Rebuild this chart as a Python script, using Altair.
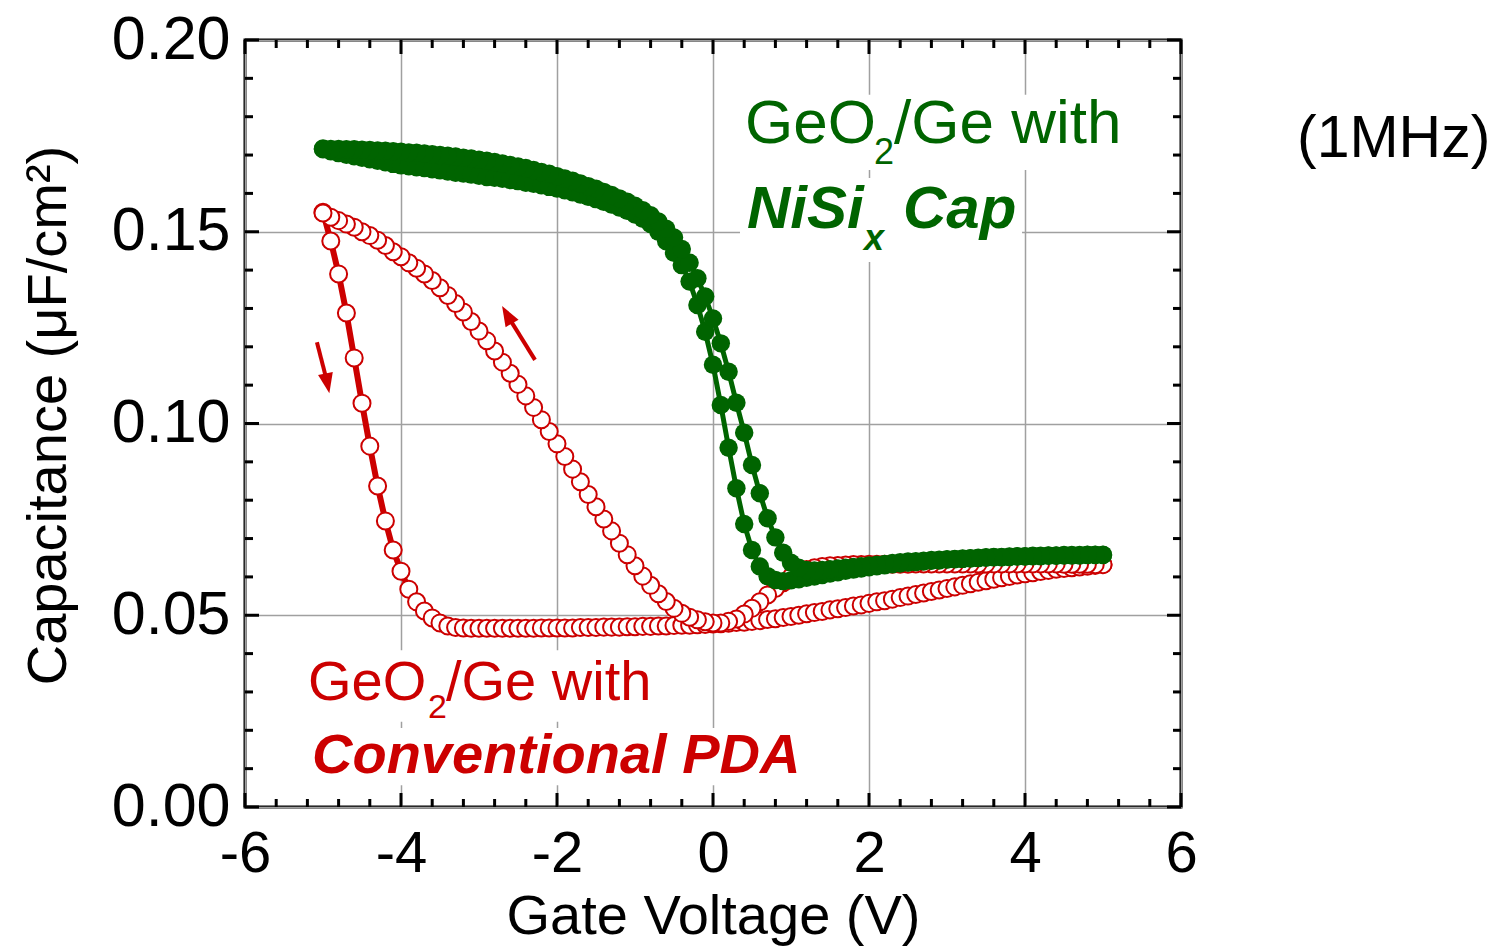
import altair as alt
import pandas as pd

F = "Liberation Sans"
RED = "#cc0000"
GREEN = "#006400"

VOLTS = [-5.0, -4.9, -4.8, -4.7, -4.6, -4.5, -4.4, -4.3, -4.2, -4.1,
         -4.0, -3.9, -3.8, -3.7, -3.6, -3.5, -3.4, -3.3, -3.2, -3.1,
         -3.0, -2.9, -2.8, -2.7, -2.6, -2.5, -2.4, -2.3, -2.2, -2.1,
         -2.0, -1.9, -1.8, -1.7, -1.6, -1.5, -1.4, -1.3, -1.2, -1.1,
         -1.0, -0.9, -0.8, -0.7, -0.6, -0.5, -0.4, -0.3, -0.2, -0.1,
         0.0, 0.1, 0.2, 0.3, 0.4, 0.5, 0.6, 0.7, 0.8, 0.9,
         1.0, 1.1, 1.2, 1.3, 1.4, 1.5, 1.6, 1.7, 1.8, 1.9,
         2.0, 2.1, 2.2, 2.3, 2.4, 2.5, 2.6, 2.7, 2.8, 2.9,
         3.0, 3.1, 3.2, 3.3, 3.4, 3.5, 3.6, 3.7, 3.8, 3.9,
         4.0, 4.1, 4.2, 4.3, 4.4, 4.5, 4.6, 4.7, 4.8, 4.9, 5.0]

# Conventional PDA, sweep -5 -> +5 (values listed in voltage order)
RED_FWD = [0.1551, 0.1476, 0.1390, 0.1288, 0.1171, 0.1053, 0.0941, 0.0837, 0.0746, 0.0670,
           0.0615, 0.0568, 0.0535, 0.0511, 0.0493, 0.0480, 0.0472, 0.0468, 0.0467, 0.0466,
           0.0466, 0.0466, 0.0466, 0.0466, 0.0466, 0.0466, 0.0466, 0.0466, 0.0467, 0.0467,
           0.0467, 0.0467, 0.0467, 0.0468, 0.0468, 0.0468, 0.0469, 0.0469, 0.0469, 0.0470,
           0.0470, 0.0471, 0.0471, 0.0472, 0.0472, 0.0473, 0.0474, 0.0474, 0.0475, 0.0476,
           0.0477, 0.0478, 0.0479, 0.0481, 0.0482, 0.0484, 0.0486, 0.0489, 0.0491, 0.0494,
           0.0497, 0.0500, 0.0504, 0.0507, 0.0510, 0.0514, 0.0517, 0.0520, 0.0524, 0.0527,
           0.0531, 0.0535, 0.0538, 0.0542, 0.0546, 0.0550, 0.0554, 0.0558, 0.0562, 0.0566,
           0.0570, 0.0574, 0.0578, 0.0582, 0.0586, 0.0590, 0.0594, 0.0598, 0.0601, 0.0605,
           0.0608, 0.0611, 0.0614, 0.0617, 0.0620, 0.0622, 0.0624, 0.0626, 0.0628, 0.0630, 0.0632]

# Conventional PDA, sweep +5 -> -5 (values listed in voltage order)
RED_BWD = [0.1549, 0.1538, 0.1529, 0.1520, 0.1512, 0.1500, 0.1490, 0.1478, 0.1464, 0.1448,
           0.1435, 0.1419, 0.1405, 0.1390, 0.1373, 0.1354, 0.1334, 0.1313, 0.1291, 0.1266,
           0.1241, 0.1216, 0.1189, 0.1160, 0.1131, 0.1102, 0.1072, 0.1042, 0.1010, 0.0979,
           0.0947, 0.0914, 0.0881, 0.0848, 0.0815, 0.0783, 0.0751, 0.0720, 0.0688, 0.0658,
           0.0629, 0.0602, 0.0578, 0.0556, 0.0536, 0.0518, 0.0505, 0.0495, 0.0488, 0.0483,
           0.0480, 0.0480, 0.0484, 0.0490, 0.0503, 0.0518, 0.0535, 0.0553, 0.0570, 0.0585,
           0.0600, 0.0611, 0.0619, 0.0624, 0.0627, 0.0629, 0.0630, 0.0631, 0.0632, 0.0632,
           0.0633, 0.0633, 0.0633, 0.0633, 0.0633, 0.0633, 0.0634, 0.0634, 0.0634, 0.0634,
           0.0634, 0.0634, 0.0634, 0.0634, 0.0634, 0.0634, 0.0634, 0.0634, 0.0634, 0.0634,
           0.0634, 0.0634, 0.0634, 0.0634, 0.0634, 0.0633, 0.0633, 0.0633, 0.0633, 0.0632, 0.0632]

# NiSix cap, sweep -5 -> +5
GREEN_FWD = [0.1715, 0.1710, 0.1705, 0.1701, 0.1697, 0.1693, 0.1689, 0.1685, 0.1681, 0.1677,
             0.1673, 0.1671, 0.1668, 0.1666, 0.1663, 0.1660, 0.1657, 0.1654, 0.1652, 0.1649,
             0.1646, 0.1643, 0.1641, 0.1638, 0.1635, 0.1632, 0.1628, 0.1625, 0.1621, 0.1617,
             0.1613, 0.1608, 0.1603, 0.1597, 0.1591, 0.1585, 0.1578, 0.1571, 0.1563, 0.1555,
             0.1545, 0.1534, 0.1520, 0.1500, 0.1475, 0.1445, 0.1413, 0.1370, 0.1309, 0.1239,
             0.1153, 0.1048, 0.0937, 0.0831, 0.0738, 0.0670, 0.0627, 0.0602, 0.0592, 0.0589,
             0.0591, 0.0594, 0.0598, 0.0601, 0.0605, 0.0609, 0.0612, 0.0616, 0.0619, 0.0622,
             0.0625, 0.0628, 0.0630, 0.0633, 0.0635, 0.0637, 0.0639, 0.0640, 0.0642, 0.0643,
             0.0645, 0.0646, 0.0647, 0.0648, 0.0649, 0.0650, 0.0651, 0.0651, 0.0652, 0.0653,
             0.0653, 0.0654, 0.0654, 0.0655, 0.0655, 0.0656, 0.0656, 0.0656, 0.0657, 0.0657, 0.0657]

# NiSix cap, sweep +5 -> -5 (values listed in voltage order)
GREEN_BWD = [0.1717, 0.1716, 0.1716, 0.1715, 0.1715, 0.1714, 0.1713, 0.1712, 0.1711, 0.1710,
             0.1709, 0.1707, 0.1706, 0.1704, 0.1702, 0.1700, 0.1698, 0.1696, 0.1693, 0.1691,
             0.1688, 0.1685, 0.1682, 0.1678, 0.1674, 0.1670, 0.1666, 0.1661, 0.1656, 0.1651,
             0.1645, 0.1639, 0.1633, 0.1626, 0.1619, 0.1612, 0.1604, 0.1596, 0.1587, 0.1578,
             0.1568, 0.1556, 0.1543, 0.1527, 0.1508, 0.1485, 0.1455, 0.1419, 0.1379, 0.1331,
             0.1274, 0.1209, 0.1135, 0.1054, 0.0976, 0.0892, 0.0818, 0.0753, 0.0703, 0.0663,
             0.0637, 0.0624, 0.0618, 0.0617, 0.0618, 0.0620, 0.0622, 0.0624, 0.0626, 0.0628,
             0.0630, 0.0632, 0.0634, 0.0636, 0.0638, 0.0640, 0.0641, 0.0642, 0.0644, 0.0645,
             0.0646, 0.0647, 0.0648, 0.0649, 0.0650, 0.0651, 0.0652, 0.0652, 0.0653, 0.0654,
             0.0654, 0.0655, 0.0655, 0.0656, 0.0656, 0.0657, 0.0657, 0.0657, 0.0658, 0.0658, 0.0658]

X_MAJOR = [-6, -4, -2, 0, 2, 4, 6]
X_MINOR = [-5.6, -5.2, -4.8, -4.4, -3.6, -3.2, -2.8, -2.4, -1.6, -1.2, -0.8, -0.4,
           0.4, 0.8, 1.2, 1.6, 2.4, 2.8, 3.2, 3.6, 4.4, 4.8, 5.2, 5.6]
Y_MAJOR = [0.0, 0.05, 0.10, 0.15, 0.20]
Y_MINOR = [0.01, 0.02, 0.03, 0.04, 0.06, 0.07, 0.08, 0.09, 0.11, 0.12, 0.13, 0.14,
           0.16, 0.17, 0.18, 0.19]

# arrows: tail (V, C) -> head centre (V, C), head angle
ARROW_TAIL_V = [-5.078, -2.282]
ARROW_TAIL_C = [0.1212, 0.1166]
ARROW_HEAD_V = [-4.950, -2.624]
ARROW_HEAD_C = [0.1111, 0.1278]
ARROW_ANGLE = [168.7, 330.0]

W, H = 936, 767
xs = alt.Scale(domain=[-6, 6], nice=False, zero=False)
ys = alt.Scale(domain=[0, 0.2], nice=False, zero=False)


def loop(fwd, bwd):
    rows = []
    k = 0
    for v, c in zip(VOLTS, fwd):
        rows.append({"V": v, "C": c, "o": k})
        k += 1
    for v, c in zip(VOLTS[::-1], bwd[::-1]):
        rows.append({"V": v, "C": c, "o": k})
        k += 1
    return pd.DataFrame(rows)


red_df = loop(RED_FWD, RED_BWD)
green_df = loop(GREEN_FWD, GREEN_BWD)

XA = alt.Axis(values=X_MAJOR, grid=True, gridColor="#a0a0a0", gridWidth=1.5,
              ticks=False, domain=False, labelFont=F, labelFontSize=58,
              labelColor="black", labelPadding=18, labelFlush=False, labelOverlap=False,
              labelExpr="datum.value < 0 ? '-' + format(-datum.value, 'd') : format(datum.value, 'd')",
              title="Gate Voltage (V)", titleFont=F, titleFontSize=56,
              titleFontWeight="normal", titleColor="black", titleX=468, titleY=126,
              titleBaseline="alphabetic", titleAlign="center")
YA = alt.Axis(values=Y_MAJOR, format=".2f", grid=True, gridColor="#a0a0a0", gridWidth=1.5,
              ticks=False, domain=False, labelFont=F, labelFontSize=61,
              labelColor="black", labelPadding=15, labelFlush=False, labelOverlap=False,
              title="Capacitance (μF/cm²)", titleFont=F, titleFontSize=56,
              titleFontWeight="normal", titleColor="black", titleAngle=270,
              titleX=-180, titleY=375, titleBaseline="alphabetic", titleAlign="center")


def box(v1, v2, c1, c2):
    return alt.Chart(pd.DataFrame({"a": [0]})).mark_rect(fill="white").encode(
        x=alt.X(datum=v1, scale=xs, axis=XA), x2=alt.X2(datum=v2),
        y=alt.Y(datum=c1, scale=ys, axis=YA), y2=alt.Y2(datum=c2))


boxes = [
    box(0.346, 5.346, 0.1857, 0.1661),
    box(0.346, 3.962, 0.1640, 0.1421),
    box(-5.231, -0.744, 0.0409, 0.0222),
    box(-5.192, 1.115, 0.0206, 0.0057),
]


def ticks_x(vals, length, top):
    df = pd.DataFrame({"t": vals})
    if top:
        y1, y2 = 0, length
    else:
        y1, y2 = H, H - length
    return alt.Chart(df).mark_rule(color="black", strokeWidth=3).encode(
        x=alt.X("t:Q", scale=xs, axis=XA), y=alt.value(y1), y2=alt.value(y2))


def ticks_y(vals, length, right):
    df = pd.DataFrame({"t": vals})
    if right:
        x1, x2 = W, W - length
    else:
        x1, x2 = 0, length
    return alt.Chart(df).mark_rule(color="black", strokeWidth=3).encode(
        y=alt.Y("t:Q", scale=ys, axis=YA), x=alt.value(x1), x2=alt.value(x2))


tick_layers = [
    ticks_x(X_MAJOR, 14, False), ticks_x(X_MINOR, 8, False),
    ticks_x(X_MAJOR, 14, True), ticks_x(X_MINOR, 8, True),
    ticks_y(Y_MAJOR, 14, False), ticks_y(Y_MINOR, 8, False),
    ticks_y(Y_MAJOR, 14, True), ticks_y(Y_MINOR, 8, True),
]

XE = alt.X("V:Q", scale=xs, axis=XA)
YE = alt.Y("C:Q", scale=ys, axis=YA)

red_line = alt.Chart(red_df).mark_line(color=RED, strokeWidth=6).encode(
    x=XE, y=YE, order=alt.Order("o:Q"))
red_pts = alt.Chart(red_df).mark_point(shape="circle", filled=True, fill="white",
                                       stroke=RED, strokeWidth=2, size=290, opacity=1).encode(
    x=XE, y=YE)
green_line = alt.Chart(green_df).mark_line(color=GREEN, strokeWidth=5).encode(
    x=XE, y=YE, order=alt.Order("o:Q"))
green_pts = alt.Chart(green_df).mark_point(shape="circle", filled=True, color=GREEN,
                                           size=340, opacity=1).encode(x=XE, y=YE)

arrow_df = pd.DataFrame({"v1": ARROW_TAIL_V, "c1": ARROW_TAIL_C,
                         "v2": ARROW_HEAD_V, "c2": ARROW_HEAD_C, "ang": ARROW_ANGLE})
arrow_shaft = alt.Chart(arrow_df).mark_rule(color=RED, strokeWidth=4).encode(
    x=alt.X("v1:Q", scale=xs, axis=XA), x2="v2:Q",
    y=alt.Y("c1:Q", scale=ys, axis=YA), y2="c2:Q")
arrow_head = alt.Chart(arrow_df).mark_point(shape="M0,-1L0.6,0.6L-0.6,0.6Z", filled=True,
                                            color=RED, size=625, opacity=1).encode(
    x=alt.X("v2:Q", scale=xs, axis=XA), y=alt.Y("c2:Q", scale=ys, axis=YA),
    angle=alt.Angle("ang:Q", scale=None))


def label(text, v, c, color, size, weight="normal", style="normal"):
    return alt.Chart(pd.DataFrame({"a": [0]})).mark_text(
        align="left", baseline="alphabetic", font=F, fontSize=size, fontWeight=weight,
        fontStyle=style, color=color).encode(
        x=alt.X(datum=v, scale=xs, axis=XA), y=alt.Y(datum=c, scale=ys, axis=YA),
        text=alt.value(text))


texts = [
    label("GeO", 0.410, 0.1731, GREEN, 62),
    label("2", 2.064, 0.1677, GREEN, 36),
    label("/Ge with", 2.321, 0.1731, GREEN, 62),
    label("NiSi", 0.436, 0.1510, GREEN, 60, "bold", "italic"),
    label("x", 1.936, 0.1452, GREEN, 36, "bold", "italic"),
    label("Cap", 2.436, 0.1510, GREEN, 60, "bold", "italic"),
    label("(1MHz)", 7.487, 0.1695, "black", 59),
    label("GeO", -5.192, 0.0279, RED, 56),
    label("2", -3.654, 0.0232, RED, 34),
    label("/Ge with", -3.423, 0.0279, RED, 56),
    label("Conventional PDA", -5.141, 0.00887, RED, 56, "bold", "italic"),
]

chart = alt.layer(
    *boxes, *tick_layers, red_line, red_pts, green_line, green_pts,
    arrow_shaft, arrow_head, *texts
).properties(
    width=W, height=H,
    padding={"left": 245, "top": 40, "right": 317, "bottom": 140},
    autosize=alt.AutoSizeParams(type="none"),
    background="white",
).configure_view(stroke="black", strokeWidth=3)

chart.save("out.html", embed_options={"renderer": "svg", "actions": False})
